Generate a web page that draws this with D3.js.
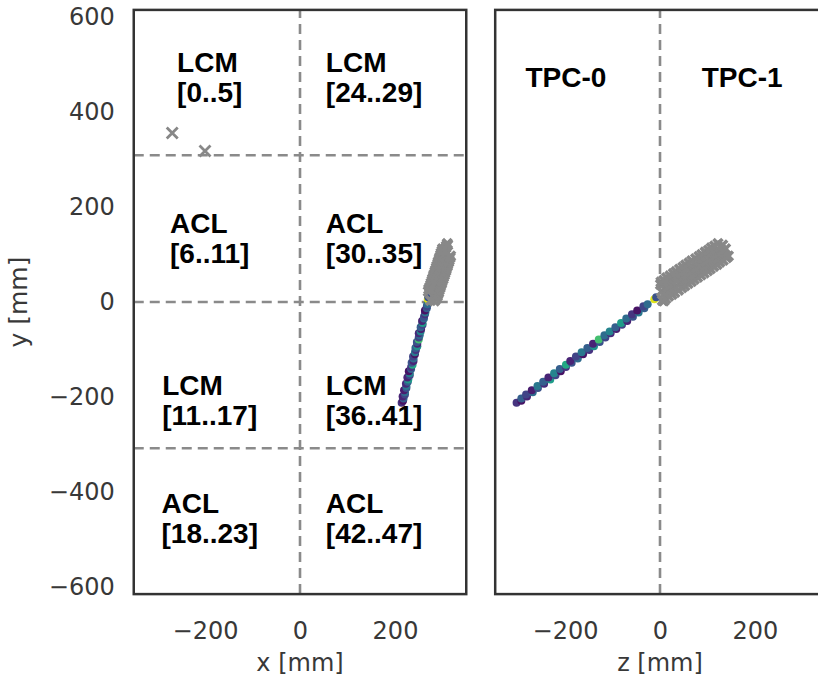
<!DOCTYPE html>
<html><head><meta charset="utf-8">
<script src="https://cdn.jsdelivr.net/npm/d3@7"></script>
<style>
html,body{margin:0;padding:0;background:#fff;}
svg{display:block;}
</style>
</head><body>
<svg id="chart" width="818" height="677"></svg>
<script>
// ---- colored track hits (x, y, z in mm, charge 0..1) ----
const hitX = [214,217,218,216,221,221,219,224,224,223,227,228,226,231,231,229,234,234,237,235,239,239,238,242,242,244,243,247,247,246,250,250,252,250,254,255,254,258,258,257,261,261,263,264,263,267,267,268,269,270];
const hitY = [-212,-208,-203,-199,-195,-190,-186,-181,-177,-172,-168,-163,-159,-154,-150,-146,-141,-137,-132,-128,-124,-119,-115,-110,-106,-101,-97,-93,-88,-84,-79,-75,-70,-66,-62,-57,-53,-48,-44,-40,-35,-31,-26,-22,-18,-13,-9,-5,6,10];
const hitZ = [-302,-292,-292,-280,-282,-268,-270,-257,-258,-244,-246,-231,-235,-220,-223,-209,-211,-198,-198,-186,-189,-173,-177,-162,-165,-149,-153,-139,-141,-127,-129,-115,-117,-104,-106,-92,-94,-80,-82,-69,-71,-57,-59,-45,-48,-33,-35,-26,-12,-8];
const hitQ = [0.15,0.05,0.3,0.1,0.2,0.35,0.08,0.25,0.4,0.12,0.3,0.55,0.1,0.2,0.45,0.05,0.3,0.15,0.6,0.25,0.1,0.35,0.2,0.05,0.4,0.15,0.3,0.5,0.1,0.25,0.7,0.2,0.35,0.12,0.45,0.08,0.3,0.2,0.55,0.1,0.35,0.25,0.15,0.4,0.05,0.3,0.2,0.35,0.95,0.25];

// ---- gray (unmatched) hits ----
const bgX = [275,283,287,270,281,289,271,283,290,273,284,292,275,286,293,276,287,295,278,289,296,279,290,298,281,292,299,282,293,301,284,295,302,285,296,304,287,298,305,288,299,307,290,301,308,291,302,310,293,304,311,294,305,313,296,307,314,297,308,316,299,310,317,300,311];
const bgY = [3,2,7,22,37,12,27,42,16,31,46,20,36,51,25,40,55,30,45,60,34,49,64,39,54,69,43,58,73,48,63,78,52,67,82,57,72,87,61,76,91,66,81,96,70,85,100,75,90,105,79,94,109,84,99,114,88,103,118,93,108,123,97,112,120];
const bgZ = [5,8,12,3,1,18,10,2,25,16,8,31,23,14,39,29,21,46,36,28,52,44,34,59,50,41,66,57,48,72,64,54,79,70,61,86,77,67,93,84,75,100,90,82,106,97,88,113,104,95,120,111,102,126,118,108,133,124,115,140,131,122,144,138,132];

// ---- stray hits seen only in the x-y view ----
const strayX = [-269,-200];
const strayY = [356,318];

// ---- ticks, boundaries, labels ----
const yTicks = [-600,-400,-200,0,200,400,600];
const xTicks = [-200,0,200];
const zTicks = [-200,0,200];
const hBounds = [309,0,-308];
const regionLabels = [
  ["LCM","[0..5]"],["ACL","[6..11]"],["LCM","[11..17]"],["ACL","[18..23]"],
  ["LCM","[24..29]"],["ACL","[30..35]"],["LCM","[36..41]"],["ACL","[42..47]"]
];
const labelColX = [-190,-190,-190,-190,156,156,156,156];
const labelRowY = [484,145,-196,-444,484,145,-196,-444];
const tpcLabels = ["TPC-0","TPC-1"];
const tpcZ = [-198,173];
const tpcY = 453;

const svg = d3.select("#chart");
const FRAME = "#333333", DASH = "#8a8a8a", TXT = "#383838";
const tickFont = "DejaVu Sans, sans-serif";
const boldFont = "Liberation Sans, Arial, sans-serif";

const x = d3.scaleLinear().domain([-350,350]).range([133.75,466.25]);
const y = d3.scaleLinear().domain([-615,615]).range([594.1,9.9]);
const z = d3.scaleLinear().domain([-347,347]).range([495.2,824.8]);

const cross = s => `M${-s},${-s}L${s},${s}M${-s},${s}L${s},${-s}`;
const fmt = d => d<0 ? "\u2212"+Math.abs(d) : d;

function panel(hs, cls, ticks, label, showY){
  const g = svg.append("g").attr("class", cls);
  const clipId = "clip-"+cls;
  svg.append("clipPath").attr("id",clipId).append("rect")
    .attr("x",hs.range()[0]).attr("y",y.range()[1])
    .attr("width",hs.range()[1]-hs.range()[0]).attr("height",y.range()[0]-y.range()[1]);
  const inner = g.append("g").attr("clip-path",`url(#${clipId})`);
  const ax = g.append("g").attr("transform",`translate(0,${y.range()[0]})`)
    .call(d3.axisBottom(hs).tickValues(ticks).tickSize(0).tickPadding(28).tickFormat(fmt));
  ax.select(".domain").remove();
  ax.selectAll("text").attr("font-family",tickFont).attr("font-size",24).attr("fill",TXT);
  g.append("text").attr("x",hs(0)).attr("y",671).attr("text-anchor","middle")
    .attr("font-family",tickFont).attr("font-size",24).attr("fill",TXT).text(label);
  if(showY){
    const ay = g.append("g").attr("transform",`translate(${hs.range()[0]},0)`)
      .call(d3.axisLeft(y).tickValues(yTicks).tickSize(0).tickPadding(19).tickFormat(fmt));
    ay.select(".domain").remove();
    ay.selectAll("text").attr("font-family",tickFont).attr("font-size",24).attr("fill",TXT);
    g.append("text").attr("transform",`translate(27,${y(0)}) rotate(-90)`)
      .attr("text-anchor","middle").attr("font-family",tickFont).attr("font-size",25)
      .attr("fill",TXT).text("y [mm]");
  }
  return {g, inner};
}

function dashLine(sel, x1, x2, y1, y2){
  sel.append("line").attr("x1",x1).attr("x2",x2).attr("y1",y1).attr("y2",y2)
    .attr("stroke",DASH).attr("stroke-width",2.6).attr("stroke-dasharray","10,6");
}

// ---- left panel: x-y ----
const L = panel(x,"left",xTicks,"x [mm]",true);
hBounds.forEach(b=>dashLine(L.inner, x.range()[0], x.range()[1], y(b), y(b)));
dashLine(L.inner, x(0), x(0), y.range()[0], y.range()[1]);
L.inner.selectAll("circle.hit").data(d3.range(hitX.length)).join("circle").attr("class","hit")
  .attr("cx",i=>x(hitX[i])).attr("cy",i=>y(hitY[i])).attr("r",4)
  .attr("fill",i=>d3.interpolateViridis(hitQ[i]));
L.inner.selectAll("path.bg").data(d3.range(bgX.length)).join("path").attr("class","bg")
  .attr("d",cross(4.5)).attr("transform",i=>`translate(${x(bgX[i])},${y(bgY[i])})`)
  .attr("stroke","#888").attr("stroke-width",3.6).attr("fill","none");
L.inner.selectAll("path.stray").data(d3.range(strayX.length)).join("path").attr("class","stray")
  .attr("d",cross(5.5)).attr("transform",i=>`translate(${x(strayX[i])},${y(strayY[i])})`)
  .attr("stroke","#888").attr("stroke-width",2.8).attr("fill","none");
regionLabels.forEach((lines,i)=>{
  const t = L.inner.append("text").attr("font-family",boldFont).attr("font-weight","bold")
    .attr("font-size",28).attr("fill","#000");
  const spans = lines.map((s,k)=> t.append("tspan").attr("y",y(labelRowY[i])+k*30).text(s));
  const w = Math.max(...spans.map(sp=>sp.node().getComputedTextLength()));
  spans.forEach(sp=>sp.attr("x",x(labelColX[i])-w/2));
});
L.g.append("rect").attr("x",x.range()[0]).attr("y",y.range()[1])
  .attr("width",x.range()[1]-x.range()[0]).attr("height",y.range()[0]-y.range()[1])
  .attr("fill","none").attr("stroke",FRAME).attr("stroke-width",2.5);

// ---- right panel: z-y ----
const R = panel(z,"right",zTicks,"z [mm]",false);
dashLine(R.inner, z(0), z(0), y.range()[0], y.range()[1]);
R.inner.selectAll("circle.hit").data(d3.range(hitZ.length)).join("circle").attr("class","hit")
  .attr("cx",i=>z(hitZ[i])).attr("cy",i=>y(hitY[i])).attr("r",4)
  .attr("fill",i=>d3.interpolateViridis(hitQ[i]));
R.inner.selectAll("path.bg").data(d3.range(bgZ.length)).join("path").attr("class","bg")
  .attr("d",cross(4.5)).attr("transform",i=>`translate(${z(bgZ[i])},${y(bgY[i])})`)
  .attr("stroke","#888").attr("stroke-width",3.6).attr("fill","none");
R.inner.selectAll("text.tpc").data(tpcLabels).join("text").attr("class","tpc")
  .attr("x",(d,i)=>z(tpcZ[i])).attr("y",y(tpcY)).attr("text-anchor","middle")
  .attr("font-family",boldFont).attr("font-weight","bold").attr("font-size",28).attr("fill","#000")
  .text(d=>d);
R.g.append("rect").attr("x",z.range()[0]).attr("y",y.range()[1])
  .attr("width",z.range()[1]-z.range()[0]).attr("height",y.range()[0]-y.range()[1])
  .attr("fill","none").attr("stroke",FRAME).attr("stroke-width",2.5);
</script>
</body></html>
